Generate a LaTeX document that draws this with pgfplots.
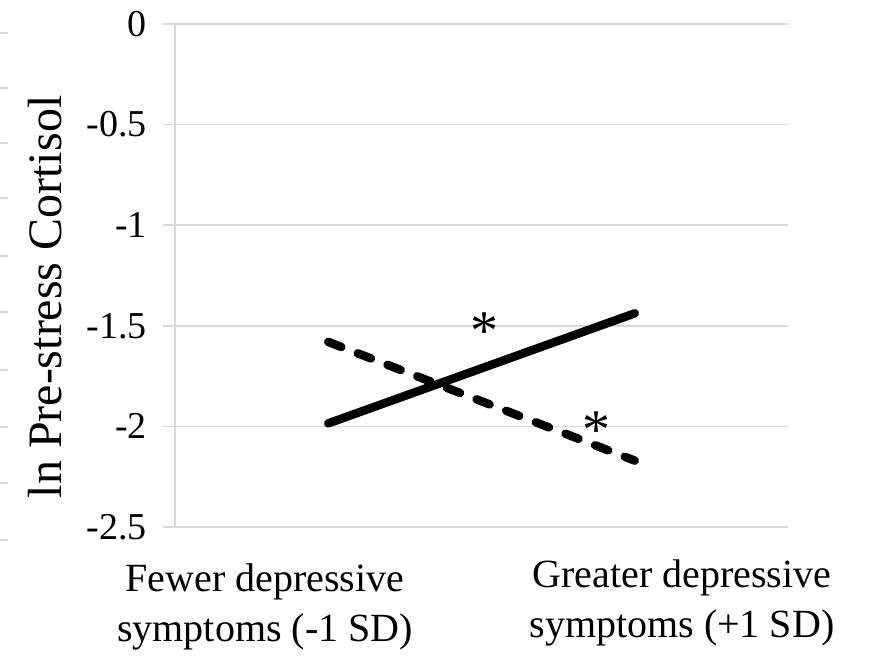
\documentclass[border=0pt]{standalone}
\usepackage{fontspec}
\setmainfont{Liberation Serif}
\usepackage{pgfplots}
\pgfplotsset{compat=1.18}
\definecolor{gridgray}{HTML}{D9D9D9}
\begin{document}
\begin{tikzpicture}[x=1pt,y=1pt]
\useasboundingbox (0,0) rectangle (874,655);
% cut-off ticks of a neighbouring chart at the left edge
\foreach \yy in {33,88,143,198,256,312,370,427,483,540}
  \draw[gridgray, line width=1.5pt] (0,655-\yy) -- (8,655-\yy);
\begin{axis}[
  at={(175pt,128pt)}, anchor=south west,
  scale only axis, width=613pt, height=503pt,
  xmin=0.5, xmax=2.5, ymin=-2.5, ymax=0,
  axis x line=bottom, axis y line=left,
  axis line style={-, gridgray, line width=1.5pt},
  xtick=\empty,
  ytick={-2.5,-2,-1.5,-1,-0.5,0},
  ymajorgrids, grid style={gridgray, line width=1.5pt},
  tick align=outside, major tick length=12pt,
  tick style={gridgray, line width=1.5pt},
  /pgf/number format/assume math mode=true,
  yticklabel style={font=\fontsize{38}{44}\selectfont, inner sep=0pt, xshift=-16pt},
  clip=false,
]
\addplot[black, line width=8.5pt, line cap=round] coordinates {(1,-1.985) (2,-1.438)};
\addplot[black, line width=8.5pt, line cap=round, dash pattern=on 14pt off 17.8pt] coordinates {(1,-1.58) (2,-2.17)};
\node[anchor=base, font=\fontsize{56}{60}\selectfont, inner sep=0pt] at (axis cs:1.51,-1.617) {*};
\node[anchor=base, font=\fontsize{56}{60}\selectfont, inner sep=0pt] at (axis cs:1.874,-2.109) {*};
\end{axis}
\node[rotate=90, font=\fontsize{48}{56}\selectfont, inner sep=0pt] at (45,358) {ln Pre-stress Cortisol};
\node[align=center, font=\fontsize{40}{50}\selectfont, inner sep=0pt] at (265,48) {Fewer depressive\\symptoms (-1 SD)};
\node[align=center, font=\fontsize{40}{50}\selectfont, inner sep=0pt] at (682,52) {Greater depressive\\symptoms (+1 SD)};
\end{tikzpicture}
\end{document}
